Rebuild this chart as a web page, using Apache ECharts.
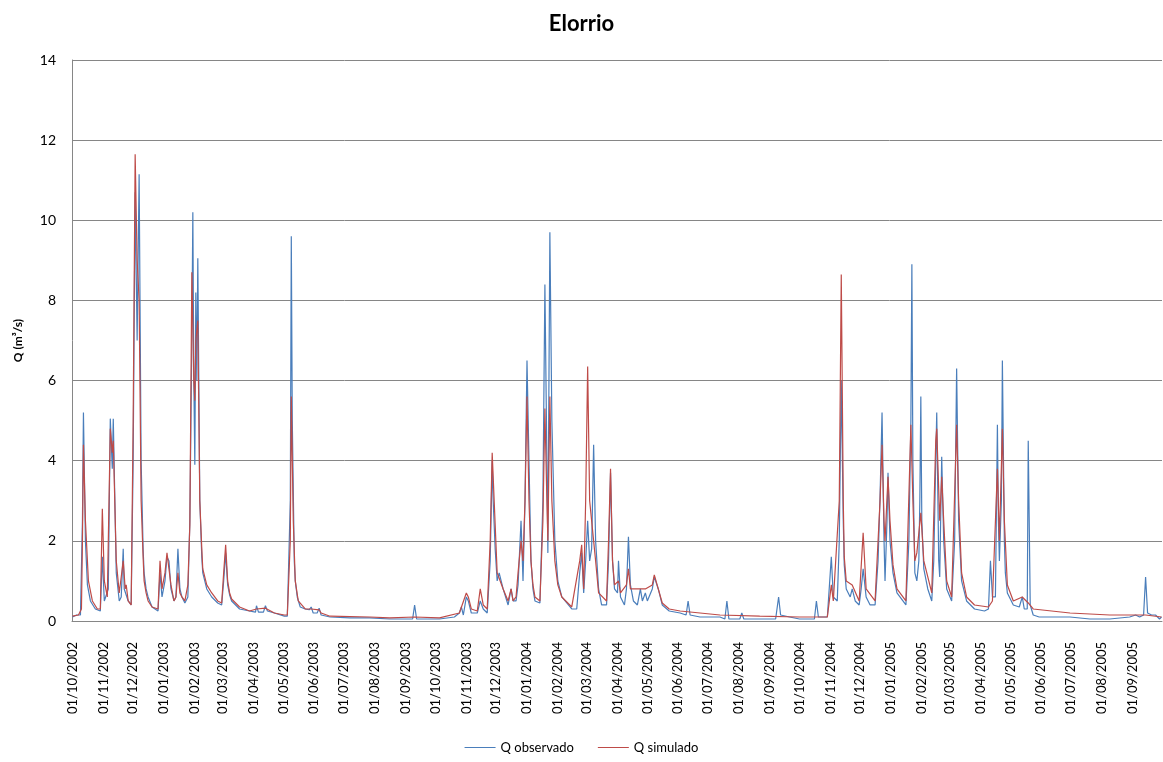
<!DOCTYPE html>
<html>
<head>
<meta charset="utf-8">
<title>Elorrio</title>
<script src="https://cdn.jsdelivr.net/npm/echarts@6/dist/echarts.min.js"></script>
<style>
  html, body { margin: 0; padding: 0; background: #fff; }
  #chart { width: 1163px; height: 762px; }
</style>
</head>
<body>
<div id="chart"></div>
<script>
// caudal diario, del 01/10/2002 al 30/09/2005
var startDate = new Date(Date.UTC(2002, 9, 1));
var nDays = 1096;

// puntos: [dias desde 01/10/2002, Q m3/s]
var qObservado = [
  [0,0.1],[4,0.15],[8,0.15],[10,2.5],[11,5.2],[13,2.0],[15,0.9],[18,0.5],[23,0.3],[28,0.25],
  [30,1.6],[32,0.5],[36,0.8],[38,5.05],[40,3.8],[41,5.05],[44,1.2],[47,0.5],[49,0.6],[51,1.8],
  [52,0.8],[54,0.8],[56,0.5],[59,0.4],[61,4],[63,10.7],[65,7],[67,11.15],[69,4],[71,1.8],[72,1.2],
  [74,0.8],[76,0.6],[80,0.35],[86,0.25],[88,1.2],[90,0.6],[93,1.0],[95,1.6],[97,1.5],[99,0.8],[102,0.5],
  [104,0.6],[106,1.8],[108,0.8],[110,0.6],[113,0.45],[116,0.6],[118,2.5],[120,7],[121,10.2],[122,6],
  [123,3.9],[124,8.2],[125,6],[126,9.05],[128,3],[130,1.6],[131,1.2],[135,0.8],[140,0.6],[146,0.45],[150,0.4],
  [152,1.0],[154,1.7],[156,0.9],[158,0.65],[160,0.5],[168,0.3],[178,0.25],[184,0.22],[185,0.38],[187,0.22],[192,0.22],
  [194,0.38],[196,0.25],[203,0.2],[213,0.12],[216,0.12],[219,3],[220,9.6],[221,5],[223,1.5],[224,1.0],[226,0.6],
  [229,0.35],[234,0.3],[238,0.28],[240,0.35],[242,0.2],[246,0.2],[248,0.32],[250,0.15],[259,0.1],[279,0.08],
  [299,0.08],[319,0.05],[342,0.05],[344,0.4],[346,0.05],[359,0.05],[369,0.05],[384,0.1],[389,0.2],[391,0.35],
  [393,0.15],[396,0.6],[398,0.5],[401,0.2],[407,0.2],[410,0.5],[413,0.3],[417,0.2],[420,1.5],[422,4.0],
  [423,3],[425,1.8],[427,1.0],[429,1.2],[433,0.8],[438,0.4],[441,0.8],[443,0.5],[446,0.5],[448,0.9],
  [451,2.5],[453,1.0],[455,3],[457,6.5],[459,4],[461,1.5],[463,0.8],[465,0.5],[470,0.45],[473,3],[475,8.4],
  [477,4],[478,1.7],[480,9.7],[482,5],[483,4.0],[485,2],[488,1.0],[492,0.6],[502,0.3],[507,0.3],[510,1.2],
  [512,1.7],[514,0.7],[516,1.5],[518,2.5],[520,1.5],[522,1.8],[524,4.4],[526,2],[529,0.8],[532,0.4],
  [537,0.4],[539,1.5],[541,3.7],[543,1.5],[545,0.8],[548,0.7],[549,1.5],[551,0.6],[555,0.4],[557,0.8],
  [559,2.1],[561,0.9],[564,0.5],[568,0.4],[571,0.8],[573,0.5],[576,0.7],[578,0.5],[583,0.8],[585,1.1],
  [589,0.8],[593,0.4],[600,0.25],[611,0.2],[617,0.15],[619,0.5],[621,0.15],[631,0.1],[651,0.1],[656,0.05],
  [658,0.5],[660,0.05],[671,0.05],[673,0.2],[675,0.05],[691,0.05],[707,0.05],[710,0.6],[712,0.15],[721,0.1],
  [731,0.05],[746,0.05],[748,0.5],[750,0.1],[759,0.1],[763,1.6],[765,0.6],[769,0.5],[771,2],[773,6.0],
  [775,2.5],[776,1.4],[778,0.8],[782,0.6],[784,0.8],[787,0.5],[791,0.4],[793,0.8],[795,1.3],[798,0.6],[802,0.4],
  [807,0.4],[810,1.5],[812,3.1],[814,5.2],[816,2],[817,1.0],[819,2.5],[820,3.7],[822,2.0],[825,1.2],
  [829,0.7],[835,0.5],[838,0.4],[841,2],[843,5],[844,8.9],[845,4],[847,1.2],[849,1.0],[851,1.5],
  [852,3],[853,5.6],[854,2.5],[856,1.3],[860,0.8],[864,0.5],[866,1.5],[868,4],[869,5.2],[871,1.5],
  [872,1.1],[874,4.1],[876,2],[879,0.8],[884,0.5],[887,2],[889,6.3],[891,2.5],[894,1.0],[899,0.5],
  [907,0.3],[917,0.25],[921,0.3],[923,1.5],[925,0.6],[928,0.6],[930,4.9],[931,2.5],[932,1.5],[934,3],
  [935,6.5],[937,2],[938,1.2],[940,0.7],[946,0.4],[952,0.35],[955,0.6],[957,0.3],[960,0.3],[961,4.5],[963,0.4],
  [966,0.15],[972,0.1],[1003,0.1],[1023,0.05],[1043,0.05],[1063,0.1],[1069,0.15],[1073,0.1],[1077,0.15],[1079,1.1],
  [1081,0.2],[1085,0.15],[1089,0.15],[1093,0.05],[1095,0.1]
];

var qSimulado = [
  [0,0.12],[6,0.15],[9,0.3],[10,2],[11,4.4],[13,2.5],[16,1.0],[20,0.5],[25,0.3],[28,0.3],
  [30,2.8],[32,1.0],[35,0.6],[38,4.8],[40,4.2],[41,4.5],[44,1.5],[47,0.7],[51,1.5],[53,0.8],
  [54,0.9],[56,0.5],[59,0.4],[61,5],[63,11.65],[65,9],[67,8],[69,3],[71,1.6],[72,1.0],[74,0.7],[76,0.5],
  [80,0.35],[86,0.3],[88,1.5],[90,0.8],[93,1.2],[95,1.7],[97,1.7],[99,0.9],[102,0.5],[104,0.6],
  [106,1.2],[108,0.7],[110,0.6],[113,0.5],[116,0.9],[118,2.4],[120,8.7],[122,6],[123,5.5],[124,7.0],
  [126,7.5],[128,3],[130,1.8],[131,1.3],[135,0.9],[140,0.7],[146,0.5],[150,0.45],[152,1.2],[154,1.9],[156,1.0],
  [158,0.7],[160,0.55],[168,0.35],[178,0.25],[185,0.3],[194,0.32],[203,0.2],[213,0.15],[216,0.15],[219,2],[220,5.6],
  [222,2.5],[224,1.0],[227,0.5],[234,0.3],[240,0.3],[248,0.28],[250,0.2],[259,0.12],[299,0.1],[319,0.08],
  [344,0.1],[369,0.08],[389,0.2],[396,0.7],[398,0.6],[401,0.3],[407,0.25],[410,0.8],[413,0.4],[417,0.3],
  [420,2],[422,4.2],[424,3],[427,1.2],[433,0.8],[438,0.5],[441,0.8],[443,0.5],[446,0.6],[448,1.2],
  [451,2.0],[453,1.5],[455,3],[457,5.6],[459,3],[461,1.5],[463,0.9],[465,0.6],[470,0.5],[473,2.5],[475,5.3],
  [477,3],[478,2],[480,5.6],[482,3],[485,1.5],[488,0.9],[492,0.6],[502,0.35],[510,1.5],[512,1.9],[514,0.8],
  [516,3],[518,6.35],[520,3],[524,2],[526,1.5],[529,0.7],[537,0.5],[539,2],[541,3.8],[543,1.5],
  [545,0.9],[549,1.0],[551,0.7],[557,0.9],[559,1.3],[561,0.8],[571,0.8],[576,0.8],[583,0.9],[585,1.15],
  [589,0.8],[593,0.45],[600,0.3],[611,0.25],[631,0.2],[651,0.15],[691,0.12],[731,0.1],[759,0.1],[763,0.9],
  [765,0.5],[771,3],[773,8.65],[775,3],[776,1.6],[778,1.0],[784,0.9],[791,0.5],[795,2.2],[798,0.8],[807,0.5],
  [812,3],[814,4.4],[816,2.5],[817,2],[820,3.6],[822,2.5],[825,1.4],[829,0.8],[838,0.5],[843,4.9],[845,3],
  [847,1.5],[849,1.7],[853,2.7],[856,1.5],[864,0.7],[868,4.5],[869,4.8],[872,2.5],[874,3.6],[876,2.5],
  [879,1.0],[884,0.6],[889,4.9],[891,3],[894,1.2],[899,0.6],[907,0.4],[921,0.35],[925,0.5],[930,3.8],
  [932,2],[935,4.8],[937,2.5],[940,0.9],[946,0.5],[955,0.6],[961,0.45],[966,0.3],[1003,0.2],[1043,0.15],
  [1079,0.15],[1095,0.1]
];

var yTicks = [0, 2, 4, 6, 8, 10, 12, 14];

// fechas dd/mm/yyyy
function pad(n) { return n < 10 ? '0' + n : '' + n; }
var fechas = [];
for (var i = 0; i < nDays; i++) {
  var d = new Date(startDate.getTime() + i * 86400000);
  fechas.push(pad(d.getUTCDate()) + '/' + pad(d.getUTCMonth() + 1) + '/' + d.getUTCFullYear());
}

// serie diaria con huecos, los huecos se unen con connectNulls
function toDaily(points) {
  var arr = new Array(nDays).fill(null);
  points.forEach(function (p) { arr[p[0]] = p[1]; });
  return arr;
}

var myChart = echarts.init(document.getElementById('chart'));
var font = 'Lato, "Open Sans", sans-serif';

var option = {
  animation: false,
  backgroundColor: '#fff',
  title: {
    text: 'Elorrio',
    left: 'center',
    top: 8,
    textStyle: { fontFamily: font, fontSize: 22, fontWeight: 'bold', color: '#000' }
  },
  legend: {
    bottom: 3,
    left: 'center',
    itemWidth: 31,
    itemHeight: 1,
    itemGap: 24,
    icon: 'rect',
    textStyle: { fontFamily: font, fontSize: 13, color: '#000' },
    data: ['Q observado', 'Q simulado']
  },
  grid: {
    left: 72,
    right: 1,
    top: 60,
    bottom: 141,
    containLabel: false,
    outerBoundsMode: 'none'
  },
  xAxis: {
    type: 'category',
    data: fechas,
    boundaryGap: true,
    axisLine: { lineStyle: { color: '#868686', width: 1 } },
    axisTick: { show: false },
    axisLabel: {
      interval: function (index, value) { return value.slice(0, 3) === '01/'; },
      rotate: 90,
      margin: 21,
      fontFamily: font,
      fontSize: 13,
      color: '#000'
    },
    splitLine: { show: false }
  },
  yAxis: {
    type: 'value',
    min: 0,
    max: 14,
    interval: 2,
    name: 'Q (m³/s)',
    nameLocation: 'middle',
    nameRotate: 90,
    nameGap: 48,
    nameTextStyle: { fontFamily: font, fontSize: 12, fontWeight: 'bold', color: '#000' },
    axisLine: { show: true, lineStyle: { color: '#868686', width: 1 } },
    axisTick: { show: false },
    axisLabel: {
      fontFamily: font,
      fontSize: 14,
      color: '#000',
      margin: 16,
      formatter: function (v) { return yTicks.indexOf(v) >= 0 ? v : ''; }
    },
    splitLine: { show: true, lineStyle: { color: '#868686', width: 1 } }
  },
  series: [
    {
      name: 'Q observado',
      type: 'line',
      data: toDaily(qObservado),
      connectNulls: true,
      showSymbol: false,
      symbol: 'none',
      color: '#4A7EBB',
      lineStyle: { color: '#4A7EBB', width: 1.2 }
    },
    {
      name: 'Q simulado',
      type: 'line',
      data: toDaily(qSimulado),
      connectNulls: true,
      showSymbol: false,
      symbol: 'none',
      color: '#BE4B48',
      lineStyle: { color: '#BE4B48', width: 1.2 }
    }
  ]
};
myChart.setOption(option);

window.addEventListener('resize', function () { myChart.resize(); });
</script>
</body>
</html>
